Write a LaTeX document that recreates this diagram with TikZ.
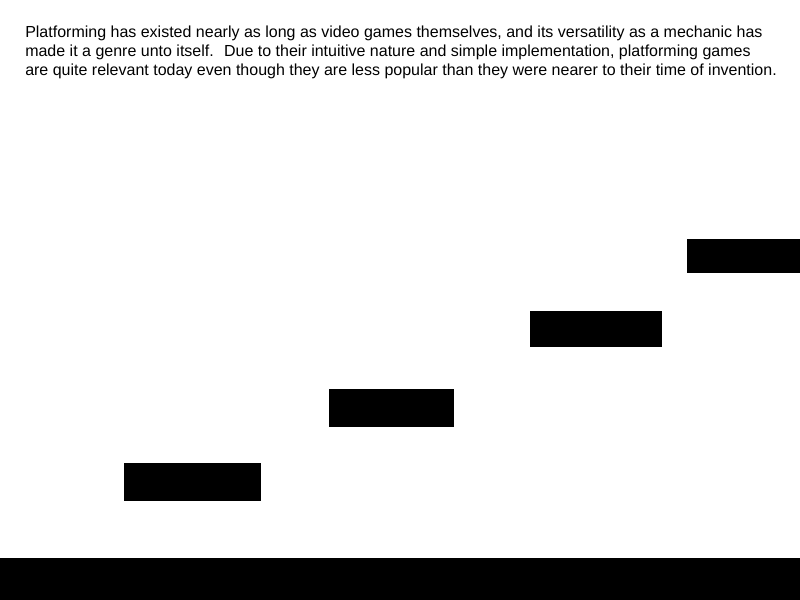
\documentclass[tikz,border=0pt]{standalone}
\usepackage{fontspec}
\setmainfont{Liberation Sans}
\begin{document}
\begin{tikzpicture}[x=0.75pt, y=-0.75pt]
    \tikzstyle{every node}=[font=\fontsize{12pt}{13.9pt}\selectfont, align=left]
    \tikzset{
        block/.style={fill=black}
        }

    \useasboundingbox (0,0) rectangle (800,600);

    %intro text
    \node (intro) [anchor=base west, inner sep=0pt] at (25,75) {Platforming has existed nearly as long as video games themselves, and its versatility as a mechanic has\\made it a genre unto itself.~ Due to their intuitive nature and simple implementation, platforming games\\are quite relevant today even though they are less popular than they were nearer to their time of invention.};

    %platforms
    \fill[block] (124,463) rectangle (261,501);
    \fill[block] (329,389) rectangle (454,427);
    \fill[block] (530,311) rectangle (662,347);
    \fill[block] (687,239) rectangle (800,273);

    %ground
    \fill[block] (0,558) rectangle (800,600);
\end{tikzpicture}
\end{document}
